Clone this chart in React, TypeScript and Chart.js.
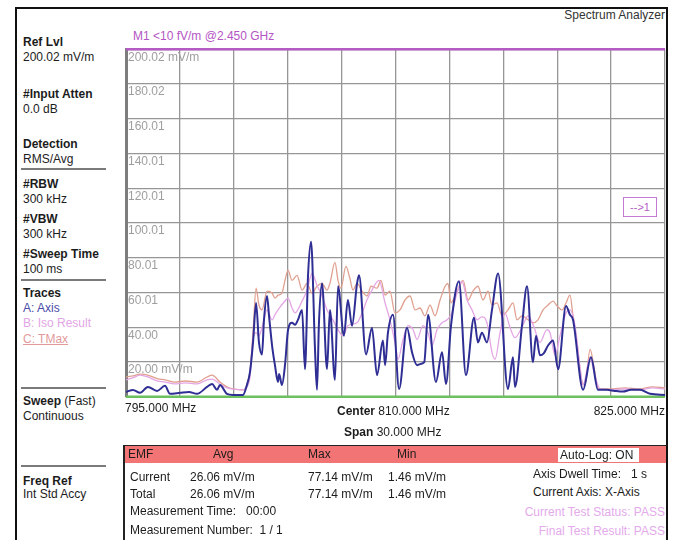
import React, { useEffect, useRef } from "react";
import { Chart, registerables } from "chart.js";

Chart.register(...registerables);

// ---- axis definitions ----
const xTickValues = [795, 798, 801, 804, 807, 810, 813, 816, 819, 822, 825];
const yTickValues = [0, 20.0, 40.0, 60.01, 80.01, 100.01, 120.01, 140.01, 160.01, 180.02, 200.02];
const yTickLabels = ["", "20.00 mV/m", "40.00", "60.01", "80.01", "100.01", "120.01", "140.01", "160.01", "180.02", "200.02 mV/m"];

// ---- limit lines ----
const limitFreqs = [795, 825];
const m1Limit = [200.02, 200.02];
const lowerLimit = [0, 0];

// ---- Trace A: Axis ----
const axisFreqs = [
  795.0, 795.39, 795.78, 796.22, 796.73, 797.17, 797.45, 798.01, 798.5, 798.95,
  799.51, 799.79, 800.07, 800.23, 800.62, 800.96, 801.51, 801.73, 801.9, 802.07,
  802.24, 802.4, 802.57, 802.68, 802.85, 802.96, 803.13, 803.29, 803.46, 803.52,
  803.68, 803.85, 804.02, 804.24, 804.41, 804.57, 804.8, 804.96, 805.13, 805.3,
  805.52, 805.63, 805.74, 805.91, 806.19, 806.35, 806.63, 806.8, 807.13, 807.35,
  807.58, 807.86, 807.97, 808.36, 808.69, 808.97, 809.3, 809.42, 809.58, 809.86,
  810.2, 810.64, 810.92, 811.2, 811.36, 811.6, 811.81, 812.25, 812.59, 812.81,
  813.09, 813.53, 813.92, 814.37, 814.59, 814.81, 815.09, 815.37, 815.71, 816.26,
  816.54, 816.65, 817.04, 817.32, 817.65, 817.82, 818.04, 818.25, 818.49, 818.77,
  819.05, 819.49, 819.71, 819.88, 820.44, 820.88, 821.27, 821.77, 822.2, 822.66,
  823.1, 823.61, 824.17, 825.0,
];
const axisValues = [
  2.8, 3.9, 2.3, 5.7, 3.4, 6.3, 1.7, 2.3, 2.8, 1.7,
  5.7, 7.4, 4.0, 6.8, 1.7, 1.1, 1.1, 6.8, 14.2, 31.3,
  54.0, 31.3, 24.4, 44.3, 58.0, 46.6, 29.5, 18.2, 8.5, 13.1,
  6.8, 18.2, 38.6, 42.6, 41.5, 44.3, 50.0, 15.9, 69.3, 89.2,
  27.3, 4.0, 42.6, 65.3, 15.9, 50.0, 9.7, 63.6, 35.2, 55.7,
  40.9, 65.3, 69.9, 24.4, 39.8, 12.5, 32.4, 18.2, 36.9, 47.2,
  4.5, 39.8, 25.6, 18.2, 18.8, 19.9, 47.2, 8.5, 25.6, 7.4,
  40.9, 66.5, 12.5, 45.5, 31.3, 36.9, 31.3, 50.0, 71.0, 4.5,
  22.7, 5.7, 40.9, 63.6, 19.9, 35.2, 23.9, 25.0, 29.5, 32.4,
  15.9, 52.3, 47.2, 44.3, 4.0, 22.7, 4.0, 4.0, 3.4, 3.0,
  4.0, 4.0, 1.7, 1.1,
];

// ---- Trace B: Iso Result ----
const isoFreqs = [
  795.0, 795.4, 795.78, 796.22, 796.73, 797.17, 797.7, 798.3, 798.95, 799.51,
  799.79, 800.23, 800.62, 800.96, 801.51, 801.73, 801.9, 802.07, 802.24, 802.4,
  802.57, 802.85, 803.13, 803.29, 803.46, 803.85, 804.02, 804.24, 804.41, 804.8,
  805.08, 805.35, 805.63, 805.91, 806.19, 806.52, 806.8, 807.08, 807.35, 807.86,
  808.14, 808.41, 808.69, 809.08, 809.42, 809.69, 809.97, 810.14, 810.42, 810.7,
  810.98, 811.2, 811.53, 811.81, 812.03, 812.31, 812.59, 812.87, 813.14, 813.42,
  813.7, 813.98, 814.26, 814.54, 814.81, 815.09, 815.37, 815.54, 815.82, 816.09,
  816.37, 816.65, 817.04, 817.38, 817.71, 818.04, 818.43, 818.6, 818.88, 819.16,
  819.49, 819.71, 819.99, 820.27, 820.44, 820.83, 821.05, 821.38, 822.0, 822.7,
  823.6, 824.3, 825.0,
];
const isoValues = [
  9.7, 11.0, 12.5, 11.4, 9.1, 8.5, 7.4, 8.0, 7.4, 9.7,
  10.2, 7.4, 5.1, 4.5, 4.0, 5.7, 11.4, 33.0, 36.9, 35.0,
  39.8, 50.0, 44.3, 47.2, 50.0, 55.1, 56.8, 51.1, 48.3, 55.1,
  61.4, 71.0, 64.2, 58.0, 50.0, 44.3, 38.6, 35.2, 40.9, 42.6,
  48.3, 55.7, 61.4, 67.0, 54.0, 44.3, 31.3, 21.6, 33.0, 40.9,
  38.6, 33.0, 40.9, 36.9, 29.5, 38.6, 42.6, 44.3, 48.3, 59.7,
  66.5, 55.7, 50.0, 44.3, 46.0, 42.6, 25.6, 21.6, 36.9, 48.3,
  40.0, 34.0, 40.0, 46.6, 40.0, 31.3, 38.6, 36.9, 23.9, 35.2,
  48.3, 50.0, 40.9, 17.0, 6.8, 22.7, 14.2, 4.5, 4.0, 4.5,
  4.0, 5.1, 4.5,
];

// ---- Trace C: TMax ----
const tmaxFreqs = [
  795.0, 795.4, 795.78, 796.22, 796.73, 797.17, 797.7, 798.3, 798.95, 799.51,
  799.79, 800.23, 800.62, 800.96, 801.51, 801.73, 801.9, 802.07, 802.24, 802.4,
  802.57, 802.85, 803.13, 803.29, 803.46, 803.68, 803.85, 804.02, 804.24, 804.52,
  804.8, 805.08, 805.35, 805.63, 805.91, 806.19, 806.35, 806.63, 806.8, 806.96,
  807.24, 807.46, 807.63, 807.86, 808.14, 808.41, 808.64, 808.97, 809.19, 809.42,
  809.69, 809.97, 810.25, 810.53, 810.81, 811.09, 811.36, 811.64, 811.92, 812.2,
  812.48, 812.76, 812.92, 813.09, 813.31, 813.59, 813.76, 814.04, 814.31, 814.59,
  814.87, 815.15, 815.37, 815.65, 815.93, 816.26, 816.54, 816.76, 817.04, 817.38,
  817.65, 817.93, 818.21, 818.49, 818.77, 818.99, 819.27, 819.49, 819.71, 819.88,
  820.1, 820.38, 820.55, 820.83, 821.05, 821.27, 821.94, 822.77, 823.61, 824.28,
  825.0,
];
const tmaxValues = [
  11.4, 12.0, 13.1, 12.5, 10.5, 9.7, 8.5, 9.1, 8.5, 11.4,
  12.5, 8.5, 5.7, 4.5, 4.0, 6.8, 14.2, 36.9, 62.5, 52.8,
  50.0, 60.8, 59.7, 56.8, 58.5, 59.7, 67.0, 72.7, 67.0, 69.9,
  61.4, 65.3, 59.7, 63.6, 65.3, 61.4, 65.3, 77.3, 67.0, 62.5,
  75.0, 68.2, 61.4, 65.3, 60.8, 58.0, 63.6, 62.5, 67.0, 58.5,
  60.8, 48.3, 50.0, 55.7, 58.0, 50.0, 51.1, 46.6, 52.8, 46.6,
  55.7, 63.6, 65.3, 54.0, 58.0, 64.2, 67.0, 55.7, 60.8, 63.6,
  55.7, 60.8, 52.8, 54.0, 46.6, 50.0, 54.0, 44.3, 46.6, 44.3,
  42.6, 44.3, 50.0, 52.8, 55.1, 52.3, 50.0, 54.0, 58.5, 46.6,
  31.3, 8.5, 6.8, 27.3, 17.0, 4.5, 4.5, 5.1, 4.5, 5.7,
  5.1,
];

const FONT = '"Liberation Sans", Arial, Helvetica, sans-serif';

const toPoints = (xs: number[], ys: number[]) => xs.map((x, i) => ({ x, y: ys[i] }));

function T(props: { x?: number; right?: number; y: number; children: React.ReactNode; style?: React.CSSProperties }) {
  const s: React.CSSProperties = {
    position: "absolute",
    top: props.y,
    whiteSpace: "pre",
    lineHeight: "14px",
    ...(props.right !== undefined ? { right: props.right } : { left: props.x }),
    ...props.style,
  };
  return <div style={s}>{props.children}</div>;
}

const B = (p: { children: React.ReactNode }) => <span style={{ fontWeight: "bold" }}>{p.children}</span>;

function Sep({ y }: { y: number }) {
  return <div style={{ position: "absolute", left: 21, top: y, width: 85, height: 2, background: "#7a7a7a" }} />;
}

export default function App() {
  const ref = useRef<HTMLCanvasElement | null>(null);

  useEffect(() => {
    if (!ref.current) return;
    const lineBase = { pointRadius: 0, fill: false, cubicInterpolationMode: "monotone" as const, tension: 0.4 };
    const chart = new Chart(ref.current, {
      type: "line",
      data: {
        datasets: [
          { label: "A: Axis", data: toPoints(axisFreqs, axisValues), borderColor: "#2e2e94", borderWidth: 2, ...lineBase },
          { label: "B: Iso Result", data: toPoints(isoFreqs, isoValues), borderColor: "#e4a6e4", borderWidth: 1.3, ...lineBase },
          { label: "C: TMax", data: toPoints(tmaxFreqs, tmaxValues), borderColor: "#e0a090", borderWidth: 1.3, ...lineBase },
          { label: "M1", data: toPoints(limitFreqs, m1Limit), borderColor: "#b45cc4", borderWidth: 2.5, pointRadius: 0, clip: false as any },
          { label: "Lower", data: toPoints(limitFreqs, lowerLimit), borderColor: "#6cc060", borderWidth: 2.5, pointRadius: 0, clip: false as any },
        ],
      },
      options: {
        responsive: false,
        animation: false,
        devicePixelRatio: 1,
        layout: { padding: { left: 6, top: 8, right: 7, bottom: 6 } },
        plugins: { legend: { display: false }, tooltip: { enabled: false } },
        events: [],
        scales: {
          x: {
            type: "linear",
            min: 795,
            max: 825,
            afterBuildTicks: (s: any) => {
              s.ticks = xTickValues.map((v) => ({ value: v }));
            },
            afterFit: (s: any) => {
              s.height = 0;
            },
            ticks: { display: false },
            grid: { color: "#969696", lineWidth: 1.3, drawTicks: false },
            border: { display: false },
          },
          y: {
            type: "linear",
            min: 0,
            max: 200.02,
            afterBuildTicks: (s: any) => {
              s.ticks = yTickValues.map((v) => ({ value: v }));
            },
            afterFit: (s: any) => {
              s.width = 0;
            },
            ticks: {
              mirror: true,
              padding: 2,
              labelOffset: 8,
              autoSkip: false,
              color: "#9e9e9e",
              font: { family: FONT, size: 12 },
              callback: (_v: any, i: number) => yTickLabels[i],
            },
            grid: { color: "#969696", lineWidth: 1.3, drawTicks: false },
            border: { display: true, color: "#7d7d7d", width: 3 },
          },
        },
      },
    });
    return () => chart.destroy();
  }, []);

  return (
    <div
      style={{
        position: "absolute",
        left: 0,
        top: 0,
        width: 677,
        height: 540,
        overflow: "hidden",
        background: "#fff",
        fontFamily: FONT,
        fontSize: 12,
        color: "#1c1c1c",
      }}
    >
      {/* outer frame */}
      <div style={{ position: "absolute", left: 15, top: 7, width: 653, height: 600, border: "2px solid #111", boxSizing: "border-box" }} />

      <T right={12} y={8} style={{ color: "#333" }}>Spectrum Analyzer</T>
      <T x={133} y={29} style={{ color: "#b455c4" }}>M1 &lt;10 fV/m @2.450 GHz</T>

      {/* left panel */}
      <T x={23} y={35}><B>Ref Lvl</B></T>
      <T x={23} y={50}>200.02 mV/m</T>
      <T x={23} y={87}><B>#Input Atten</B></T>
      <T x={23} y={102}>0.0 dB</T>
      <T x={23} y={137}><B>Detection</B></T>
      <T x={23} y={152}>RMS/Avg</T>
      <Sep y={168} />
      <T x={23} y={177}><B>#RBW</B></T>
      <T x={23} y={192}>300 kHz</T>
      <T x={23} y={212}><B>#VBW</B></T>
      <T x={23} y={227}>300 kHz</T>
      <T x={23} y={247}><B>#Sweep Time</B></T>
      <T x={23} y={262}>100 ms</T>
      <Sep y={279} />
      <T x={23} y={286}><B>Traces</B></T>
      <T x={23} y={301} style={{ color: "#4b4ba8" }}>A: Axis</T>
      <T x={23} y={316} style={{ color: "#e2a6e6" }}>B: Iso Result</T>
      <T x={23} y={332} style={{ color: "#e39a9a", textDecoration: "underline" }}>C: TMax</T>
      <Sep y={387} />
      <T x={23} y={394}><B>Sweep</B> (Fast)</T>
      <T x={23} y={409}>Continuous</T>
      <Sep y={465} />
      <T x={23} y={474}><B>Freq Ref</B></T>
      <T x={23} y={487}>Int Std Accy</T>

      {/* chart */}
      <canvas ref={ref} width={552} height={366} style={{ position: "absolute", left: 120, top: 40 }} />

      {/* marker box */}
      <div
        style={{
          position: "absolute",
          left: 623,
          top: 197,
          width: 34,
          height: 20,
          border: "1px solid #c47ad0",
          boxSizing: "border-box",
          color: "#b460c4",
          fontSize: 11,
          lineHeight: "18px",
          textAlign: "center",
          background: "#fff",
        }}
      >
        --&gt;1
      </div>

      {/* x labels */}
      <T x={125} y={401}>795.000 MHz</T>
      <T x={337} y={404}><B>Center</B> 810.000 MHz</T>
      <T right={12} y={404}>825.000 MHz</T>
      <T x={344} y={425}><B>Span</B> 30.000 MHz</T>

      {/* table */}
      <div style={{ position: "absolute", left: 124, top: 445, width: 543, height: 1, background: "#222" }} />
      <div style={{ position: "absolute", left: 123, top: 445, width: 2, height: 100, background: "#222" }} />
      <div style={{ position: "absolute", left: 125, top: 446, width: 541, height: 17, background: "#f27474" }} />
      <div style={{ position: "absolute", left: 558, top: 448, width: 81, height: 14, background: "#fff" }} />
      <T x={128} y={447}>EMF</T>
      <T x={213} y={447}>Avg</T>
      <T x={308} y={447}>Max</T>
      <T x={397} y={447}>Min</T>
      <T x={560} y={448}>Auto-Log: ON</T>

      <T x={130} y={470}>Current</T>
      <T x={190} y={470}>26.06 mV/m</T>
      <T x={308} y={470}>77.14 mV/m</T>
      <T x={388} y={470}>1.46 mV/m</T>
      <T x={130} y={487}>Total</T>
      <T x={190} y={487}>26.06 mV/m</T>
      <T x={308} y={487}>77.14 mV/m</T>
      <T x={388} y={487}>1.46 mV/m</T>
      <T x={130} y={504}>Measurement Time:   00:00</T>
      <T x={130} y={523}>Measurement Number:  1 / 1</T>

      <T x={533} y={467}>Axis Dwell Time:   1 s</T>
      <T x={533} y={485}>Current Axis: X-Axis</T>
      <T right={12} y={505} style={{ color: "#e4aaec" }}>Current Test Status: PASS</T>
      <T right={12} y={524} style={{ color: "#e4aaec" }}>Final Test Result: PASS</T>
    </div>
  );
}
